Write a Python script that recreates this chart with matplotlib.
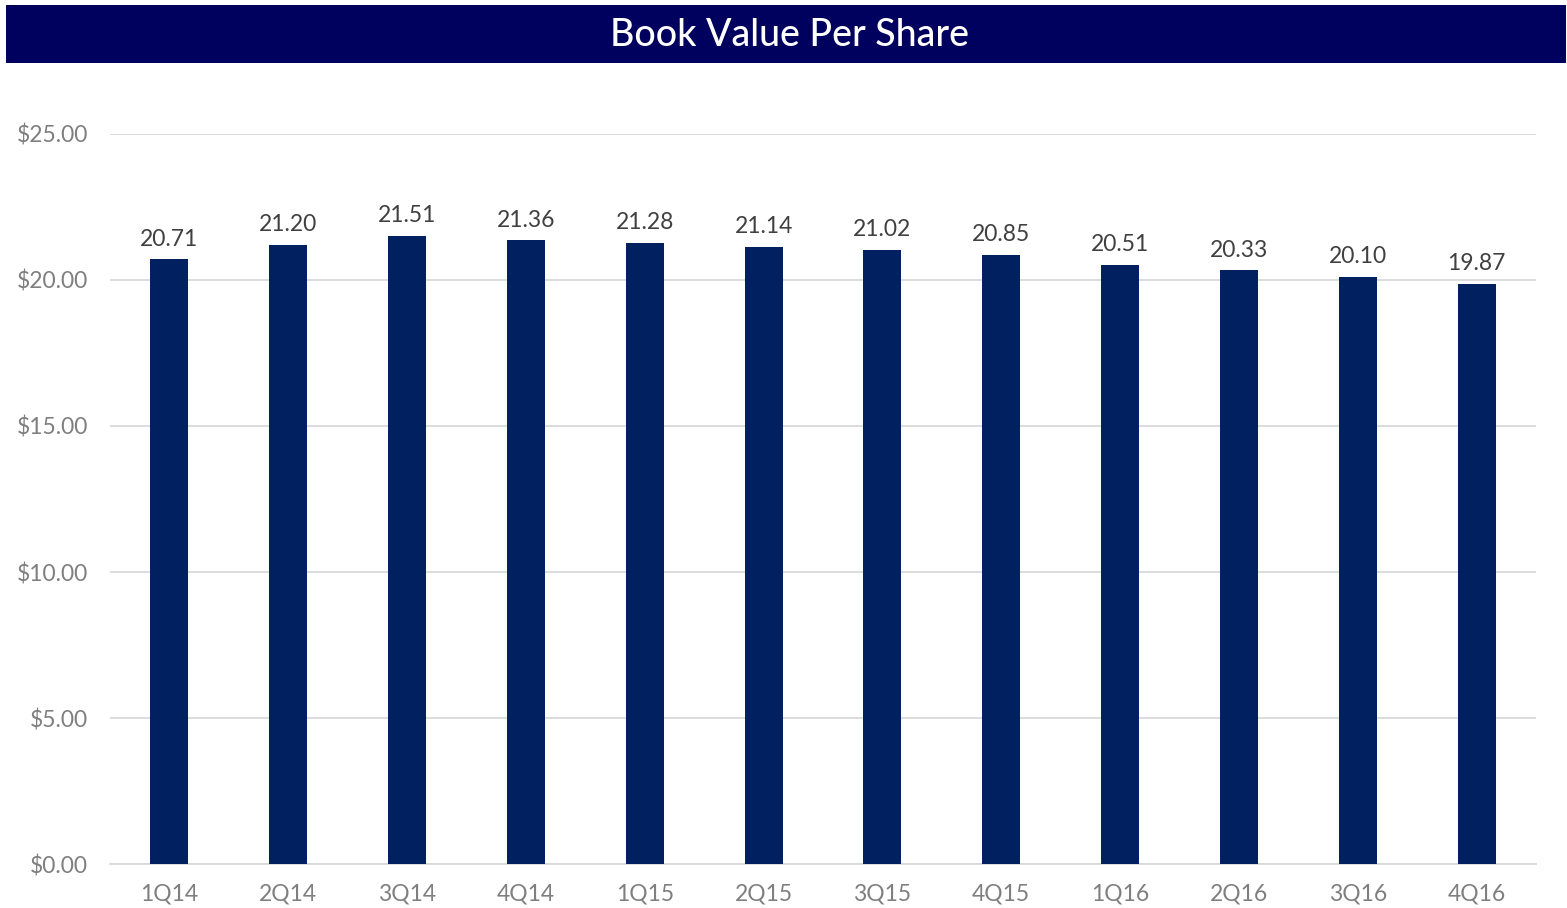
import matplotlib
matplotlib.use("Agg")
import matplotlib.pyplot as plt
from matplotlib.patches import Rectangle

categories = ["1Q14", "2Q14", "3Q14", "4Q14", "1Q15", "2Q15", "3Q15", "4Q15",
              "1Q16", "2Q16", "3Q16", "4Q16"]
values = [20.71, 21.20, 21.51, 21.36, 21.28, 21.14, 21.02, 20.85, 20.51, 20.33, 20.10, 19.87]
yticks = [0, 5, 10, 15, 20, 25]
ytick_labels = ["$0.00", "$5.00", "$10.00", "$15.00", "$20.00", "$25.00"]
title = "Book Value Per Share"

W, H = 1567, 908
fig = plt.figure(figsize=(W / 100, H / 100), dpi=100)
fig.patch.set_facecolor("white")

font = ["Lato", "DejaVu Sans"]

# title bar
fig.patches.append(Rectangle((6 / W, 1 - 63 / H), (1566 - 6) / W, 58 / H,
                             transform=fig.transFigure, facecolor="#00005E",
                             edgecolor="none", zorder=0))
fig.text(789 / W, 1 - 36 / H, title, color="white", fontsize=27, ha="center",
         va="center", family=font, fontweight="medium")

ax = fig.add_axes([110 / W, 44 / H, (1536 - 110) / W, (864 - 134) / H])
x = list(range(len(categories)))
bars = ax.bar(x, values, width=0.32, color="#002060", zorder=3)
ax.set_xlim(-0.5, len(categories) - 0.5)
ax.set_ylim(0, 25)
ax.set_yticks(yticks)
ax.set_yticklabels(ytick_labels, family=font, fontsize=16.5, color="#7F7F7F")
ax.set_xticks(x)
ax.set_xticklabels(categories, family=font, fontsize=16.5, color="#7F7F7F")
ax.grid(axis="y", color="#D9D9D9", linewidth=1.3, zorder=0)
for s in ["top", "right", "left"]:
    ax.spines[s].set_visible(False)
ax.spines["bottom"].set_color("#D9D9D9")
ax.spines["bottom"].set_linewidth(1.3)
ax.tick_params(axis="both", length=0)
ax.tick_params(axis="x", pad=14)
ax.tick_params(axis="y", pad=16)

for xi, v in zip(x, values):
    ax.annotate(f"{v:.2f}", (xi, v), xytext=(0, 7), textcoords="offset points",
                ha="center", va="bottom", fontsize=16.5, color="#404040", family=font)

fig.savefig("out.png", dpi=100)
